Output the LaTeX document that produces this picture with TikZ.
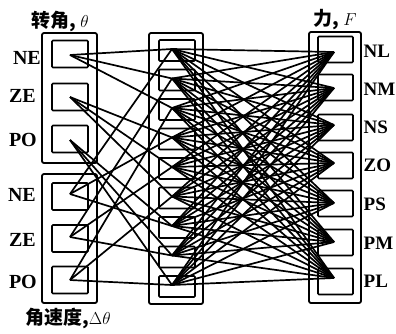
\documentclass[tikz,border=0pt]{standalone}
\usepackage{fontspec}
\setmainfont{Liberation Serif}
\newfontfamily\cjk{Noto Sans CJK SC}
\begin{document}
\begin{tikzpicture}[x=1pt,y=-1pt,
  grp/.style={draw,line width=1.8pt,rounded corners=2pt,inner sep=0pt},
  cell/.style={draw,line width=1.7pt,rounded corners=1pt,inner sep=0pt},
  link/.style={line width=1.7pt},
  lab/.style={font=\fontsize{20}{20}\selectfont\bfseries,inner sep=0pt},
  outlab/.style={font=\fontsize{19}{19}\selectfont\bfseries,inner sep=0pt},
  captxt/.style={font=\cjk\bfseries\fontsize{19}{19}\selectfont,inner sep=0pt}]
\useasboundingbox (0,0) rectangle (396,333);

% input groups: angle and angular velocity
\node[grp,minimum width=55pt,minimum height=130pt] (gang) at (69.5,98) {};
\node[grp,minimum width=55pt,minimum height=129pt] (gvel) at (69.5,238.5) {};
% rule layer
\node[grp,minimum width=54pt,minimum height=271pt] (grule) at (176,168.5) {};
% output group
\node[grp,minimum width=52pt,minimum height=271pt] (gout) at (335,167.5) {};

% input cells
\foreach \n/\y in {a1/54,a2/97,a3/139,v1/196.5,v2/238.5,v3/280}
  \node[cell,minimum width=36pt,minimum height=27pt] (c\n) at (70,\y) {};
% rule cells
\foreach \k in {1,...,9}
  \node[cell,minimum width=36pt,minimum height=21pt] (cr\k) at (177,{50.5+29.5*(\k-1)}) {};
% output cells
\foreach \n/\y in {1/49.5,2/87.5,3/127.5,4/165.5,5/203.5,6/242.5,7/281.5}
  \node[cell,minimum width=35pt,minimum height=26pt] (co\n) at (335.5,\y) {};

% connection points
\foreach \n/\y in {a1/55,a2/97,a3/140,v1/194,v2/237,v3/280}
  \coordinate (\n) at (70,\y);
\foreach \k in {1,...,9}
  \coordinate (r\k) at (172,{49+29.5*(\k-1)});
\foreach \n/\y in {1/52,2/88,3/125,4/163,5/203,6/242,7/278}
  \coordinate (o\n) at (334,\y);

% inputs to rules
\foreach \i in {1,2,3}
  \foreach \j in {1,2,3} {
    \pgfmathtruncatemacro\k{3*(\i-1)+\j}
    \draw[link] (a\i) -- (r\k);
    \draw[link] (v\j) -- (r\k);
  }
% rules to outputs
\foreach \k in {1,...,9}
  \foreach \m in {1,...,7}
    \draw[link] (r\k) -- (o\m);

% labels
\foreach \n/\t/\x/\y in {a1/NE/41/58,a2/ZE/36/96,a3/PO/37/140,v1/NE/36/195,v2/ZE/36/240,v3/PO/37/282}
  \node[lab,anchor=east] (l\n) at (\x,\y) {\t};
\foreach \n/\t/\y in {1/NL/51,2/NM/89,3/NS/127,4/ZO/165,5/PS/204,6/PM/243,7/PL/281}
  \node[outlab,anchor=west] (lo\n) at (363.5,\y) {\t};

\node[captxt] (tang) at (60,21) {转角, $\theta$};
\node[captxt] (tvel) at (68,318) {角速度,$\Delta\theta$};
\node[captxt] (tout) at (335,20) {力, $F$};
\end{tikzpicture}
\end{document}
